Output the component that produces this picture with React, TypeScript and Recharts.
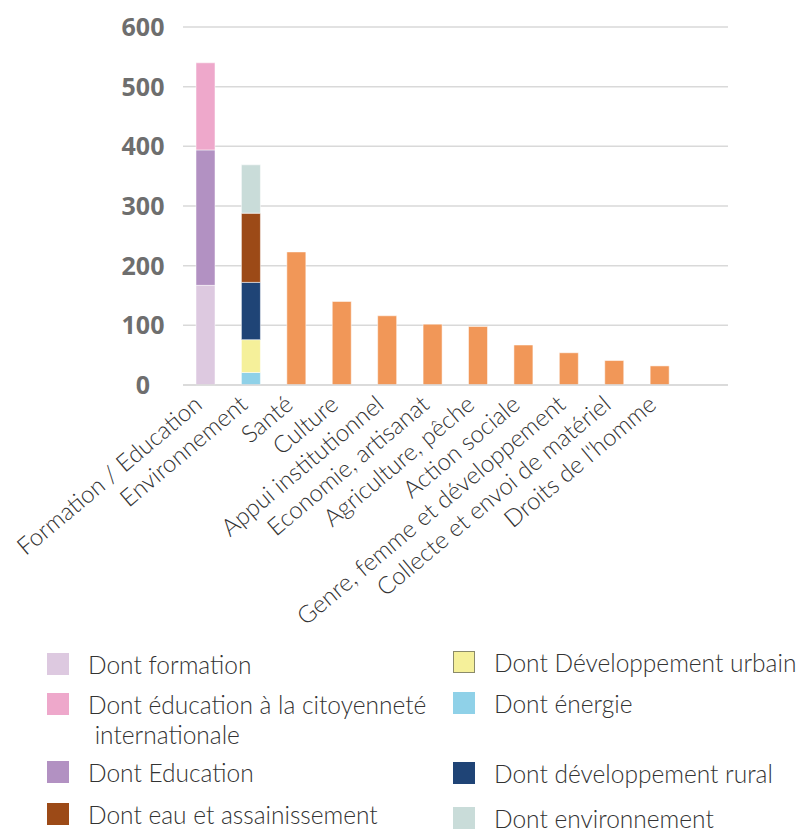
import React from 'react';
import { BarChart, Bar, XAxis, YAxis, CartesianGrid } from 'recharts';

// Catégories (la dernière bande est vide dans l'original)
const categories = [
  'Formation / Education',
  'Environnement',
  'Santé',
  'Culture',
  'Appui institutionnel',
  'Economie, artisanat',
  'Agriculture, pêche',
  'Action sociale',
  'Genre, femme et développement',
  'Collecte et envoi de matériel',
  "Droits de l'homme",
  '',
];

// Sous-séries empilées
const formation = [167, 0, 0, 0, 0, 0, 0, 0, 0, 0, 0, 0];
const education = [227, 0, 0, 0, 0, 0, 0, 0, 0, 0, 0, 0];
const citoyennete = [146, 0, 0, 0, 0, 0, 0, 0, 0, 0, 0, 0];
const energie = [0, 21, 0, 0, 0, 0, 0, 0, 0, 0, 0, 0];
const urbain = [0, 55, 0, 0, 0, 0, 0, 0, 0, 0, 0, 0];
const rural = [0, 96, 0, 0, 0, 0, 0, 0, 0, 0, 0, 0];
const eau = [0, 116, 0, 0, 0, 0, 0, 0, 0, 0, 0, 0];
const environnement = [0, 81, 0, 0, 0, 0, 0, 0, 0, 0, 0, 0];
const total = [0, 0, 223, 140, 116, 102, 98, 67, 54, 41, 32, 0];

const yTicks = [0, 100, 200, 300, 400, 500, 600];

const data = categories.map((name, i) => ({
  name,
  formation: formation[i],
  education: education[i],
  citoyennete: citoyennete[i],
  energie: energie[i],
  urbain: urbain[i],
  rural: rural[i],
  eau: eau[i],
  environnement: environnement[i],
  total: total[i],
}));

const series = [
  { key: 'formation', color: '#DDC9E0' },
  { key: 'education', color: '#B291C2' },
  { key: 'citoyennete', color: '#EEA8CB' },
  { key: 'energie', color: '#8FD1E8' },
  { key: 'urbain', color: '#F5F09A' },
  { key: 'rural', color: '#1F4476' },
  { key: 'eau', color: '#9C4A17' },
  { key: 'environnement', color: '#C9DCD9' },
  { key: 'total', color: '#F19758' },
];

const leftLegend = [
  { label: 'Dont formation', color: '#DDC9E0', top: 650 },
  { label: 'Dont éducation à la citoyenneté\n internationale', color: '#EEA8CB', top: 690 },
  { label: 'Dont Education', color: '#B291C2', top: 758 },
  { label: 'Dont eau et assainissement', color: '#9C4A17', top: 800 },
];

const rightLegend = [
  { label: 'Dont Développement urbain', color: '#F5F09A', top: 648, border: '#8a8a6a' },
  { label: 'Dont énergie', color: '#8FD1E8', top: 689 },
  { label: 'Dont développement rural', color: '#1F4476', top: 759 },
  { label: 'Dont environnement', color: '#C9DCD9', top: 804 },
];

const XTick = ({ x, y, payload }: any) => (
  <text
    x={x - 2}
    y={y + 14}
    transform={`rotate(-40, ${x - 2}, ${y + 14})`}
    textAnchor="end"
    fontFamily="Lato"
    fontWeight={300}
    fontSize={24}
    fill="#333"
  >
    {payload.value}
  </text>
);

const YTick = ({ y, payload }: any) => (
  <text
    x={143}
    y={y}
    dy={9}
    textAnchor="middle"
    fontFamily="Open Sans"
    fontWeight={700}
    fontSize={25}
    fill="#6e6e6e"
  >
    {payload.value}
  </text>
);

const LegendItem = ({ item, left }: any) => (
  <div style={{ position: 'absolute', left, top: item.top, display: 'flex', alignItems: 'flex-start' }}>
    <div
      style={{
        width: 22,
        height: 22,
        marginTop: 3,
        background: item.color,
        boxSizing: 'border-box',
        border: item.border ? `1px solid ${item.border}` : 'none',
      }}
    />
    <div
      style={{
        marginLeft: 19,
        fontFamily: 'Lato',
        fontWeight: 300,
        fontSize: 24.5,
        lineHeight: '30px',
        color: '#333',
        whiteSpace: 'pre',
      }}
    >
      {item.label}
    </div>
  </div>
);

export default function App() {
  return (
    <div style={{ position: 'absolute', left: 0, top: 0, width: 797, height: 833, background: '#fff' }}>
      <BarChart
        width={797}
        height={640}
        data={data}
        margin={{ top: 27, right: 69, left: 0, bottom: 0 }}
        barCategoryGap={13}
      >
        <CartesianGrid vertical={false} stroke="#d9d9d9" strokeWidth={1.5} />
        <XAxis
          dataKey="name"
          interval={0}
          tickLine={false}
          axisLine={{ stroke: '#d9d9d9', strokeWidth: 1.5 }}
          height={255}
          tick={<XTick />}
        />
        <YAxis
          width={183}
          domain={[0, 600]}
          ticks={yTicks}
          tickLine={false}
          axisLine={false}
          tick={<YTick />}
        />
        {series.map((s) => (
          <Bar
            key={s.key}
            dataKey={s.key}
            stackId="a"
            fill={s.color}
            stroke="#ffffff"
            strokeOpacity={0.5}
            strokeWidth={1}
            isAnimationActive={false}
          />
        ))}
      </BarChart>
      {leftLegend.map((item) => (
        <LegendItem key={item.label} item={item} left={47} />
      ))}
      {rightLegend.map((item) => (
        <LegendItem key={item.label} item={item} left={453} />
      ))}
    </div>
  );
}
